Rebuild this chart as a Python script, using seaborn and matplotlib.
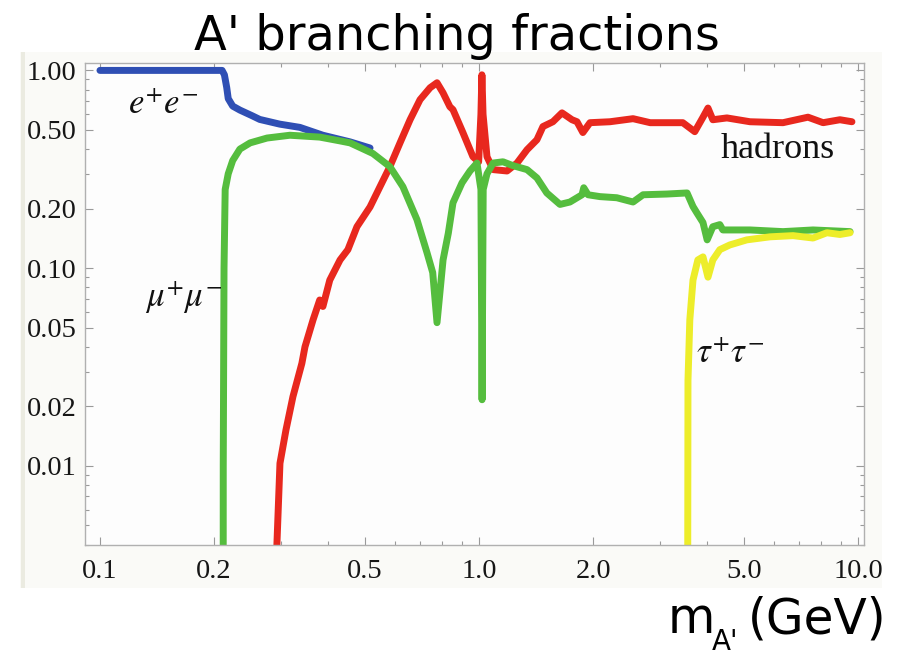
import pandas as pd
import matplotlib
matplotlib.use('Agg')
import matplotlib.pyplot as plt
from matplotlib.patches import Rectangle
from matplotlib.ticker import NullFormatter
import seaborn as sns

# Branching fractions (mass in GeV)
ee_mass = [0.1, 0.21, 0.213, 0.216, 0.218, 0.224, 0.234, 0.252, 0.264, 0.298,
           0.337, 0.3875, 0.457, 0.516]
ee_br = [1.0, 1.0, 0.95, 0.82, 0.72, 0.66, 0.63, 0.59, 0.565, 0.535,
         0.515, 0.47, 0.435, 0.405]

had_mass = [0.2915, 0.293, 0.2985, 0.3096, 0.323, 0.341, 0.3475, 0.365, 0.38, 0.3875,
            0.404, 0.43, 0.451, 0.4765, 0.516, 0.548, 0.582, 0.619, 0.658, 0.699,
            0.743, 0.775, 0.804, 0.838, 0.854, 0.907, 0.964, 0.998, 1.012, 1.018,
            1.025, 1.05, 1.09, 1.186, 1.26, 1.339, 1.422, 1.475, 1.567, 1.656,
            1.76, 1.814, 1.88, 1.963, 2.216, 2.55, 2.83, 3.45, 3.71, 3.9,
            4.02, 4.14, 4.51, 5.19, 6.34, 7.38, 8.09, 8.96, 9.64]
had_br = [0.001, 0.004, 0.0103, 0.0152, 0.0224, 0.033, 0.040, 0.0548, 0.069, 0.064,
          0.087, 0.110, 0.124, 0.162, 0.204, 0.258, 0.326, 0.43, 0.563, 0.711,
          0.817, 0.866, 0.77, 0.655, 0.633, 0.485, 0.366, 0.345, 0.6, 0.95,
          0.6, 0.366, 0.315, 0.31, 0.34, 0.397, 0.446, 0.52, 0.55, 0.61,
          0.563, 0.55, 0.485, 0.544, 0.55, 0.57, 0.544, 0.544, 0.49, 0.58,
          0.645, 0.563, 0.575, 0.55, 0.544, 0.58, 0.544, 0.563, 0.55]

mumu_mass = [0.2113, 0.2115, 0.2125, 0.214, 0.218, 0.224, 0.234, 0.249, 0.276, 0.317,
             0.38, 0.43, 0.457, 0.525, 0.582, 0.63, 0.686, 0.729, 0.755, 0.775,
             0.804, 0.83, 0.854, 0.902, 0.947, 0.988, 1.012, 1.019, 1.026, 1.05,
             1.09, 1.157, 1.229, 1.339, 1.422, 1.51, 1.636, 1.738, 1.87, 1.89,
             1.94, 2.085, 2.31, 2.55, 2.71, 3.13, 3.54, 3.67, 3.76, 3.9,
             4.0, 4.14, 4.32, 4.4, 4.59, 5.19, 6.34, 7.61, 9.53]
mumu_br = [1e-4, 0.01, 0.1, 0.25, 0.30, 0.35, 0.40, 0.43, 0.455, 0.47,
           0.46, 0.44, 0.43, 0.38, 0.326, 0.258, 0.176, 0.12, 0.095, 0.053,
           0.11, 0.15, 0.214, 0.27, 0.31, 0.34, 0.25, 0.0216, 0.25, 0.30,
           0.34, 0.345, 0.33, 0.315, 0.286, 0.24, 0.21, 0.216, 0.235, 0.255,
           0.235, 0.23, 0.227, 0.216, 0.235, 0.237, 0.24, 0.205, 0.19, 0.17,
           0.139, 0.162, 0.166, 0.156, 0.156, 0.156, 0.153, 0.156, 0.153]

tautau_mass = [3.554, 3.555, 3.56, 3.6, 3.67, 3.78, 3.9, 4.02, 4.14, 4.32,
               4.59, 5.09, 5.86, 6.74, 7.61, 8.28, 8.96, 9.53]
tautau_br = [1e-4, 0.004, 0.027, 0.0548, 0.087, 0.11, 0.114, 0.09, 0.11, 0.124,
             0.131, 0.139, 0.144, 0.146, 0.142, 0.151, 0.148, 0.151]

channels = ['ee', 'hadrons', 'mumu', 'tautau']
colors = {'ee': '#2f4fb4', 'hadrons': '#e8281e', 'mumu': '#55bd3e', 'tautau': '#eded2a'}

x_ticks = [0.1, 0.2, 0.5, 1.0, 2.0, 5.0, 10.0]
x_labels = ['0.1', '0.2', '0.5', '1.0', '2.0', '5.0', '10.0']
y_ticks = [0.01, 0.02, 0.05, 0.1, 0.2, 0.5, 1.0]
y_labels = ['0.01', '0.02', '0.05', '0.10', '0.20', '0.50', '1.00']

df = pd.concat([
    pd.DataFrame({'mass': ee_mass, 'br': ee_br, 'channel': 'ee'}),
    pd.DataFrame({'mass': had_mass, 'br': had_br, 'channel': 'hadrons'}),
    pd.DataFrame({'mass': mumu_mass, 'br': mumu_br, 'channel': 'mumu'}),
    pd.DataFrame({'mass': tautau_mass, 'br': tautau_br, 'channel': 'tautau'}),
], ignore_index=True)

sns.set_style('ticks')
plt.rcParams['font.family'] = ['DejaVu Sans']
plt.rcParams['mathtext.fontset'] = 'stix'
plt.rcParams['text.color'] = 'black'

fig = plt.figure(figsize=(9.01, 6.57), dpi=100)
fig.patches.append(Rectangle((20 / 901, 1 - 588 / 657), 862 / 901, 536 / 657,
                             transform=fig.transFigure, facecolor='#fafaf7',
                             edgecolor='none', zorder=-2))
fig.patches.append(Rectangle((21 / 901, 1 - 588 / 657), 4 / 901, 536 / 657,
                             transform=fig.transFigure, facecolor='#ebebe1',
                             edgecolor='none', zorder=-1))

ax = fig.add_axes([0.0943, 0.1705, 0.8646, 0.7336])
ax.set_facecolor('#fdfdfd')

sns.lineplot(data=df, x='mass', y='br', hue='channel', hue_order=channels,
             palette=colors, estimator=None, sort=False, linewidth=5,
             legend=False, ax=ax)

ax.set_xscale('log')
ax.set_yscale('log')
ax.set_xlim(0.0913, 10.37)
ax.set_ylim(0.00398, 1.09)

ax.set_xticks(x_ticks, x_labels)
ax.set_yticks(y_ticks, y_labels)
ax.set_xticks([0.3, 0.4, 0.6, 0.7, 0.8, 0.9, 3, 4, 6, 7, 8, 9], minor=True)
ax.set_yticks([0.004, 0.005, 0.006, 0.007, 0.008, 0.009, 0.03, 0.04, 0.06, 0.07,
               0.08, 0.09, 0.3, 0.4, 0.6, 0.7, 0.8, 0.9], minor=True)
ax.xaxis.set_minor_formatter(NullFormatter())
ax.yaxis.set_minor_formatter(NullFormatter())
ax.tick_params(which='both', direction='in', top=True, right=True, color='#9a9a9a', width=0.8)
ax.tick_params(which='major', length=6)
ax.tick_params(which='minor', length=3)
ax.tick_params(axis='x', which='major', pad=10)
ax.tick_params(axis='y', which='major', pad=6)
for lab in ax.get_xticklabels() + ax.get_yticklabels():
    lab.set_fontfamily('Liberation Serif')
    lab.set_fontsize(20.5)
    lab.set_color('#161616')
for sp in ax.spines.values():
    sp.set_color('#b0b0b0')
    sp.set_linewidth(1)
ax.set_xlabel('')
ax.set_ylabel('')

# curve labels
ax.text(0.147, 0.68, r'$e^{+}e^{-}$', fontsize=25, ha='center', va='center', color='#111111')
ax.text(0.1666, 0.0717, r'$\mu^{+}\mu^{-}$', fontsize=25, ha='center', va='center', color='#111111')
ax.text(6.15, 0.397, 'hadrons', fontsize=26, ha='center', va='center',
        family='Liberation Serif', color='#111111')
ax.text(4.59, 0.0373, r'$\tau^{+}\tau^{-}$', fontsize=25, ha='center', va='center', color='#111111')

# title and axis label drawn on the figure
fig.text(0.5067, 0.9239, "A' branching fractions", fontsize=34.5, ha='center', va='baseline')
fig.text(668 / 901, 1 - 633 / 657, 'm', fontsize=35, ha='left', va='baseline')
fig.text(712 / 901, 1 - 650 / 657, "A'", fontsize=20, ha='left', va='baseline')
fig.text(887 / 901, 1 - 633 / 657, '(GeV)', fontsize=35, ha='right', va='baseline')

fig.savefig('out.png', dpi=100)
